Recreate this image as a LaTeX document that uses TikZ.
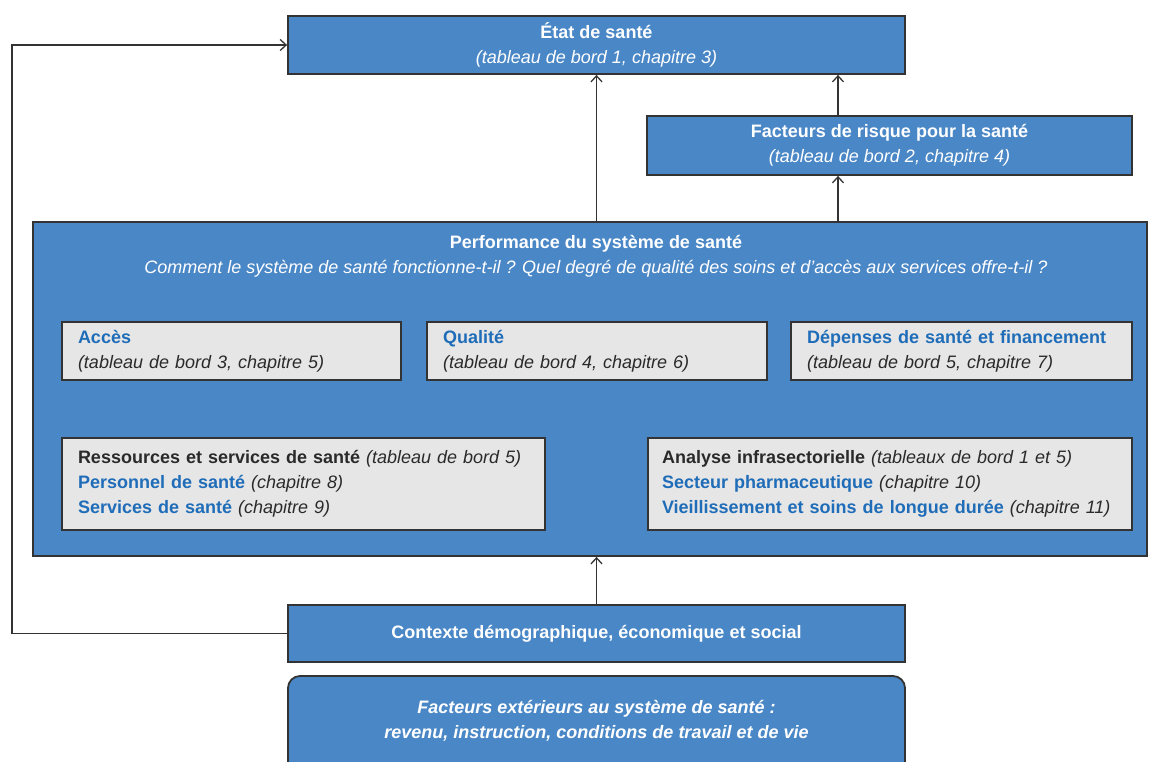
\documentclass[tikz,border=0pt]{standalone}
\usepackage{fontspec}
\setmainfont{Liberation Sans}
\usetikzlibrary{arrows.meta}
\definecolor{boxblue}{HTML}{4A87C6}
\definecolor{boxgrey}{HTML}{E6E6E6}
\definecolor{textblue}{HTML}{1F6DB8}
\definecolor{linegrey}{HTML}{333333}
\definecolor{textdark}{HTML}{2A2A2A}
\begin{document}
\begin{tikzpicture}[x=1pt,y=-1pt,
    every node/.style={font=\fontsize{18}{25}\selectfont},
    bluebox/.style={draw=linegrey,line width=1.8pt,fill=boxblue,text=white,
                    align=center,inner sep=0pt},
    greybox/.style={draw=linegrey,line width=1.8pt,fill=boxgrey,text=textdark,
                    align=left,inner xsep=16pt,inner ysep=0pt},
    arr/.style={draw=linegrey,line width=1.3pt,-{Straight Barb[length=6pt,width=11pt]}}]
    \useasboundingbox (0,0) rectangle (1151,761);

    \node[bluebox,minimum width=617,minimum height=58] (etat) at (596.5,45)
        {\textbf{État de santé}\\\textit{(tableau de bord 1, chapitre 3)}};
    \node[bluebox,minimum width=485,minimum height=59] (risque) at (889.5,145.5)
        {\textbf{Facteurs de risque pour la santé}\\\textit{(tableau de bord 2, chapitre 4)}};

    \node[bluebox,minimum width=1114,minimum height=334] (perf) at (590,389) {};
    \node[text=white,align=center,inner sep=0pt] (perftitle) at (596,256)
        {\textbf{Performance du système de santé}\\
         \textit{Comment le système de santé fonctionne-t-il ? Quel degré de qualité des soins et d'accès aux services offre-t-il ?}};

    \node[greybox,minimum height=58,text width=307] (acces) at (231.5,351)
        {\textcolor{textblue}{\textbf{Accès}}\\\textit{(tableau de bord 3, chapitre 5)}};
    \node[greybox,minimum height=58,text width=308] (qualite) at (597,351)
        {\textcolor{textblue}{\textbf{Qualité}}\\\textit{(tableau de bord 4, chapitre 6)}};
    \node[greybox,minimum height=58,text width=309] (depenses) at (961.5,351)
        {\textcolor{textblue}{\textbf{Dépenses de santé et financement}}\\\textit{(tableau de bord 5, chapitre 7)}};

    \node[greybox,minimum height=92,text width=451] (ressources) at (303.5,484)
        {\textbf{Ressources et services de santé} \textit{(tableau de bord 5)}\\
         \textcolor{textblue}{\textbf{Personnel de santé}} \textit{(chapitre 8)}\\
         \textcolor{textblue}{\textbf{Services de santé}} \textit{(chapitre 9)}};
    \node[greybox,minimum height=92,text width=456,inner xsep=14pt] (analyse) at (890,484)
        {\textbf{Analyse infrasectorielle} \textit{(tableaux de bord 1 et 5)}\\
         \textcolor{textblue}{\textbf{Secteur pharmaceutique}} \textit{(chapitre 10)}\\
         \textcolor{textblue}{\textbf{Vieillissement et soins de longue durée}} \textit{(chapitre 11)}};

    \node[bluebox,minimum width=617,minimum height=57] (ctx) at (596.5,633.5)
        {\textbf{Contexte démographique, économique et social}};
    \node[bluebox,rounded corners=12pt,minimum width=617,minimum height=110] (ext) at (596.5,731) {};
    \node[text=white,align=center,inner sep=0pt] (exttext) at (596.5,721)
        {\textbf{\textit{Facteurs extérieurs au système de santé :}}\\
         \textbf{\textit{revenu, instruction, conditions de travail et de vie}}};

    % liens
    \coordinate (rk) at (838,0);
    \coordinate (lp) at (12,0);
    \draw[arr] (etat.south |- perf.north) -- (etat.south);
    \draw[arr] (perf.north -| rk) -- (risque.south -| rk);
    \draw[arr] (risque.north -| rk) -- (etat.south -| rk);
    \draw[arr] (ctx.north) -- (ctx.north |- perf.south);
    \draw[arr] (ctx.west) -- (ctx.west -| lp) |- (etat.west);
\end{tikzpicture}
\end{document}
